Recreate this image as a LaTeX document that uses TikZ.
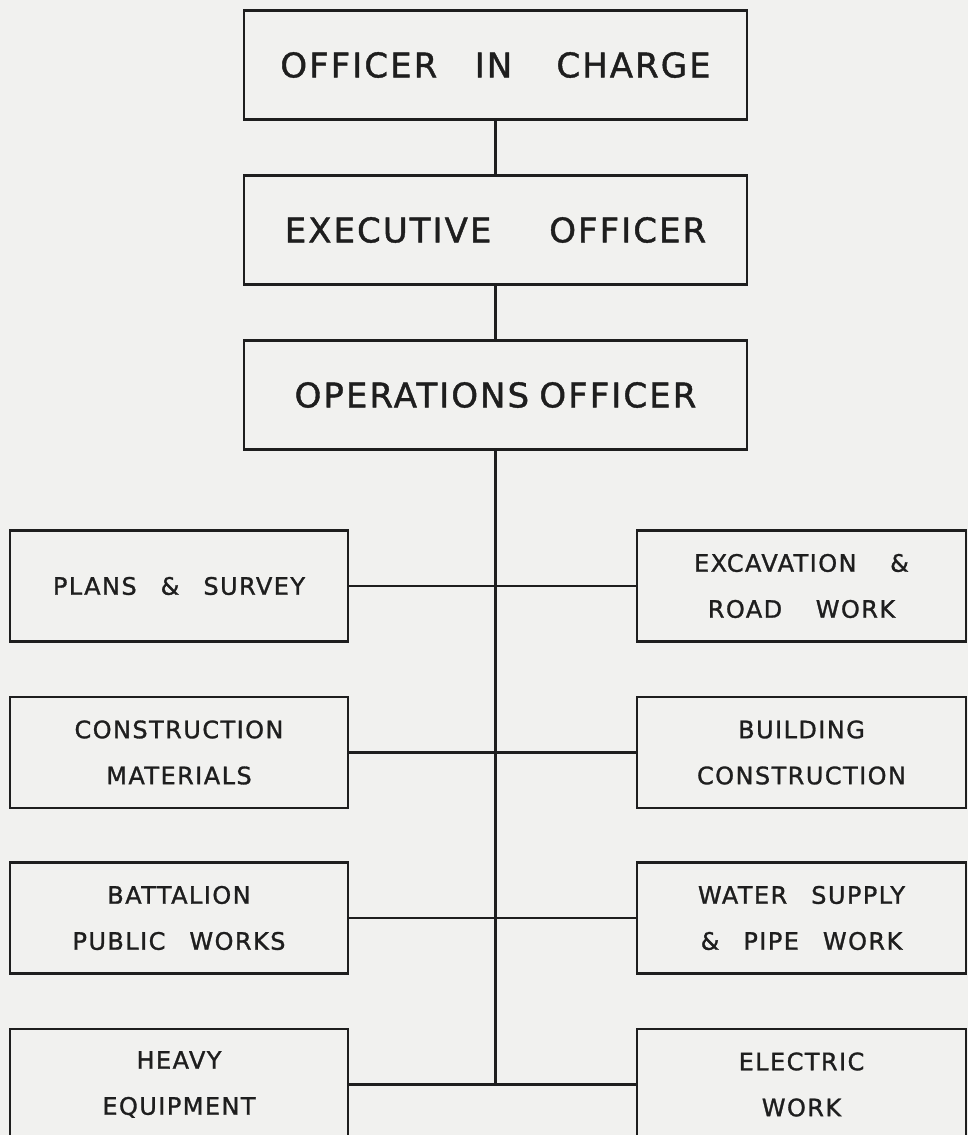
\documentclass[tikz,border=0pt]{standalone}
\usepackage{fontspec}
\newfontfamily\lettering[LetterSpace=6, FakeBold=1.2]{DejaVu Sans}
\usetikzlibrary{positioning}
\definecolor{paper}{HTML}{F1F1EF}
\definecolor{ink}{HTML}{1E1E1E}
\newcommand{\gap}[1][1em]{\hspace{#1}}

\begin{document}
\begin{tikzpicture}[x=1pt, y=-1pt,
    chief/.style={draw=ink, line width=2.4pt, minimum width=503pt, minimum height=109pt,
      inner sep=0pt, text=ink, font=\lettering\fontsize{34}{40}\selectfont},
    section/.style={draw=ink, line width=2.4pt, minimum height=111pt, inner sep=0pt,
      align=center, text=ink, font=\lettering\fontsize{24}{46}\selectfont},
    link/.style={draw=ink, line width=2.4pt}]
  \fill[paper] (0,0) rectangle (968,1135);
  \useasboundingbox (0,0) rectangle (968,1135);

  % command chain
  \node[chief] (oic) at (495.5,65) {OFFICER\gap[1.1em]IN\gap[1.3em]CHARGE};
  \node[chief] (exo) at (495.5,230) {EXECUTIVE\gap[1.7em]OFFICER};
  \node[chief] (opo) at (495.5,395) {OPERATIONS\gap[0.3em]OFFICER};

  % sections, left column
  \node[section, minimum width=338pt] (plans) at (179,586) {PLANS\gap \&\gap SURVEY};
  \node[section, minimum width=338pt] (matl) at (179,752.5) {CONSTRUCTION\\MATERIALS};
  \node[section, minimum width=338pt] (bpw) at (179,918) {BATTALION\\PUBLIC\gap WORKS};
  \node[section, minimum width=338pt] (heavy) at (179,1084.5) {HEAVY\\EQUIPMENT};

  % sections, right column
  \node[section, minimum width=329pt] (exc) at (801.5,586) {EXCAVATION\gap[1.4em]\&\\ROAD\gap[1.4em]WORK};
  \node[section, minimum width=329pt] (bldg) at (801.5,752.5) {BUILDING\\CONSTRUCTION};
  \node[section, minimum width=329pt] (water) at (801.5,918) {WATER\gap SUPPLY\\\&\gap PIPE\gap WORK};
  \node[section, minimum width=329pt] (elec) at (801.5,1084.5) {ELECTRIC\\WORK};

  \draw[link] (oic) -- (exo);
  \draw[link] (exo) -- (opo);
  \draw[link] (opo.south) -- (opo.south |- heavy.east);
  \draw[link] (plans) -- (exc);
  \draw[link] (matl) -- (bldg);
  \draw[link] (bpw) -- (water);
  \draw[link] (heavy) -- (elec);
\end{tikzpicture}
\end{document}
